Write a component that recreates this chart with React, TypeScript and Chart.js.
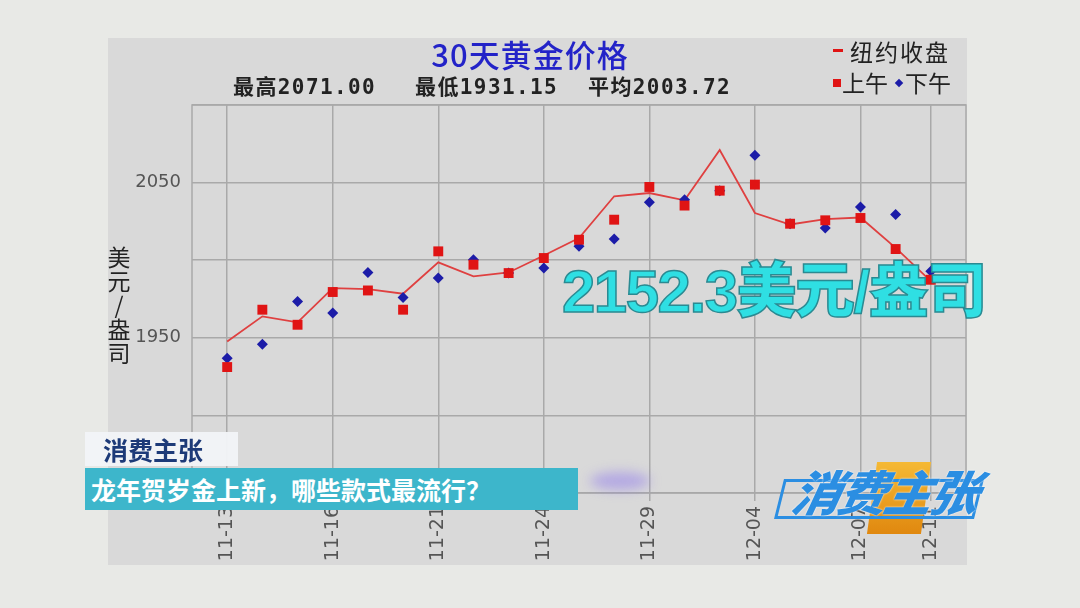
import React, { useEffect, useRef } from "react";
import { Chart, registerables } from "chart.js";

Chart.register(...registerables);

// ---- data ----
const dates = [
  "11-13", "11-14", "11-15", "11-16", "11-17", "11-20", "11-21", "11-22", "11-23", "11-24",
  "11-27", "11-28", "11-29", "11-30", "12-01", "12-04", "12-05", "12-06", "12-07", "12-08", "12-11",
];
const tickIndexes = [0, 3, 6, 9, 12, 15, 18, 20];
const nyClose = [
  1947.6, 1963.8, 1960.0, 1982.0, 1981.4, 1978.4, 1998.6, 1989.6, 1992.1, 2003.0,
  2014.3, 2041.2, 2043.3, 2038.6, 2071.0, 2030.4, 2023.0, 2026.5, 2027.5, 2007.9, 1986.5,
];
const amPrices = [
  1931.15, 1968.1, 1958.4, 1979.5, 1980.5, 1968.1, 2005.7, 1997.1, 1991.7, 2001.4,
  2013.2, 2026.1, 2047.2, 2035.2, 2044.8, 2048.7, 2023.5, 2025.7, 2027.2, 2007.2, 1987.4,
];
const pmPrices = [
  1936.9, 1945.9, 1973.4, 1965.9, 1992.1, 1976.0, 1988.5, 2000.3, 1991.7, 1995.0,
  2009.0, 2013.7, 2037.3, 2039.0, 2044.8, 2067.6, 2023.5, 2020.8, 2034.3, 2029.4, 1992.8,
];
const yGridValues = [1850, 1900, 1950, 2000, 2050, 2100];
const yLabelValues = [1950, 2050];

const titleText = "30天黄金价格";
const statHigh = "最高2071.00";
const statLow = "最低1931.15";
const statAvg = "平均2003.72";
const yTitleChars = ["美", "元", "/", "盎", "司"];

const GRID = "#a9a9a9";

const borderPlugin = {
  id: "plotBorder",
  beforeDatasetsDraw(chart: any) {
    const { ctx, chartArea } = chart;
    ctx.save();
    ctx.strokeStyle = GRID;
    ctx.lineWidth = 1.5;
    ctx.strokeRect(chartArea.left, chartArea.top, chartArea.right - chartArea.left, chartArea.bottom - chartArea.top);
    ctx.restore();
  },
};

function GoldChart() {
  const ref = useRef<HTMLCanvasElement | null>(null);
  useEffect(() => {
    if (!ref.current) return;
    const chart = new Chart(ref.current, {
      type: "line",
      data: {
        datasets: [
          {
            label: "上午",
            data: amPrices.map((v, i) => ({ x: i, y: v })),
            showLine: false,
            pointStyle: "rect",
            pointRadius: 7,
            pointBackgroundColor: "#e01414",
            pointBorderWidth: 0,
            backgroundColor: "#e01414",
            borderColor: "#e01414",
            order: 0,
          },
          {
            label: "下午",
            data: pmPrices.map((v, i) => ({ x: i, y: v })),
            showLine: false,
            pointStyle: "rectRot",
            pointRadius: 5.5,
            pointBackgroundColor: "#1c1ca8",
            pointBorderWidth: 0,
            backgroundColor: "#1c1ca8",
            borderColor: "#1c1ca8",
            order: 1,
          },
          {
            label: "纽约收盘",
            data: nyClose.map((v, i) => ({ x: i, y: v })),
            borderColor: "#df4040",
            borderWidth: 1.8,
            pointRadius: 0,
            tension: 0,
            order: 2,
          },
        ],
      },
      options: {
        animation: false,
        responsive: false,
        maintainAspectRatio: false,
        layout: { autoPadding: false, padding: { top: 67, right: 1, left: 0, bottom: 0 } },
        plugins: { legend: { display: false }, tooltip: { enabled: false }, title: { display: false } },
        scales: {
          x: {
            type: "linear",
            min: -1,
            max: 21,
            afterBuildTicks: (s: any) => {
              s.ticks = tickIndexes.map((v) => ({ value: v }));
            },
            afterFit: (s: any) => {
              s.height = 72;
              s.paddingLeft = 0;
              s.paddingRight = 0;
            },
            ticks: {
              autoSkip: false,
              minRotation: 90,
              maxRotation: 90,
              padding: 5,
              color: "#555",
              font: { family: "DejaVu Sans", size: 19 },
              callback: (v: any) => dates[v] ?? "",
            },
            grid: { color: GRID, lineWidth: 1.5, tickLength: 8 },
            border: { display: false },
          },
          y: {
            min: 1850,
            max: 2100,
            afterBuildTicks: (s: any) => {
              s.ticks = yGridValues.map((v) => ({ value: v }));
            },
            afterFit: (s: any) => {
              s.width = 84;
              s.paddingTop = 0;
              s.paddingBottom = 0;
            },
            ticks: {
              padding: 11,
              color: "#555",
              font: { family: "DejaVu Sans", size: 18 },
              callback: (v: any) => (yLabelValues.includes(v) ? String(v) : ""),
            },
            grid: { color: GRID, lineWidth: 1.5, drawTicks: false },
            border: { display: false },
          },
        },
      },
      plugins: [borderPlugin],
    });
    return () => chart.destroy();
  }, []);
  return <canvas ref={ref} width={859} height={527} style={{ display: "block" }} />;
}

const abs = (l: number, t: number, extra: React.CSSProperties = {}): React.CSSProperties => ({
  position: "absolute",
  left: l,
  top: t,
  whiteSpace: "nowrap",
  lineHeight: 1,
  ...extra,
});

const CJK = "'Noto Sans CJK SC', sans-serif";
const STAT = "'DejaVu Sans Mono', 'Noto Sans CJK SC', monospace";

export default function App() {
  const statStyle: React.CSSProperties = { fontSize: 21, fontWeight: 700, color: "#222", fontFamily: STAT, letterSpacing: 1.4 };
  return (
    <div
      style={{
        position: "fixed",
        left: 0,
        top: 0,
        width: 1080,
        height: 608,
        background: "#e8e9e6",
        overflow: "hidden",
        fontFamily: CJK,
      }}
    >
      <div style={{ position: "absolute", left: 108, top: 38, width: 859, height: 527, background: "#d9d9d9" }}>
        <GoldChart />
      </div>

      {/* title */}
      <div style={abs(380, 38, { width: 300, textAlign: "center", fontSize: 31, fontWeight: 500, color: "#2323c8", fontFamily: CJK, letterSpacing: 1 })}>
        {titleText}
      </div>
      {/* stats */}
      <div style={abs(233, 77, statStyle)}>{statHigh}</div>
      <div style={abs(415, 77, statStyle)}>{statLow}</div>
      <div style={abs(588, 77, statStyle)}>{statAvg}</div>

      {/* legend */}
      <div style={abs(833, 49, { width: 10, height: 3, background: "#e01414" })} />
      <div style={abs(850, 40, { fontSize: 23, color: "#222", letterSpacing: 2 })}>纽约收盘</div>
      <div style={abs(833, 79, { width: 8, height: 8, background: "#e01414" })} />
      <div style={abs(842, 71, { fontSize: 23, color: "#222" })}>上午</div>
      <div style={abs(896, 80, { width: 6, height: 6, background: "#1c1ca8", transform: "rotate(45deg)" })} />
      <div style={abs(905, 71, { fontSize: 23, color: "#222" })}>下午</div>

      {/* y axis title */}
      <div style={abs(106, 244, { display: "flex", flexDirection: "column", alignItems: "center", width: 26, fontSize: 23, color: "#222" })}>
        {yTitleChars.map((c, i) => (
          <span key={i} style={{ lineHeight: "24px" }}>{c}</span>
        ))}
      </div>

      {/* TV overlays */}
      <div style={abs(590, 472, { width: 60, height: 18, borderRadius: "50%", background: "rgba(150,130,235,0.55)", filter: "blur(6px)" })} />
      <div
        style={abs(85, 432, {
          width: 153,
          height: 34,
          background: "rgba(242,244,248,0.95)",
          fontSize: 25,
          fontWeight: 700,
          color: "#1d3a78",
          display: "flex",
          alignItems: "center",
          paddingLeft: 18,
          boxSizing: "border-box",
        })}
      >
        消费主张
      </div>
      <div
        style={abs(85, 468, {
          width: 493,
          height: 42,
          background: "#3db6cb",
          fontSize: 25,
          fontWeight: 700,
          color: "#ffffff",
          display: "flex",
          alignItems: "center",
          paddingLeft: 6,
          boxSizing: "border-box",
        })}
      >
        龙年贺岁金上新，哪些款式最流行？
      </div>

      <div
        style={abs(562, 262, {
          fontSize: 60,
          fontWeight: 900,
          fontFamily: "'Liberation Sans', 'Noto Sans CJK SC', sans-serif",
          color: "#2fdfe3",
          WebkitTextStroke: "1.5px #2a8a92",
          letterSpacing: -1.5,
        })}
      >
        2152.3美元/盎司
      </div>

      {/* logo */}
      <div
        style={abs(872, 462, {
          width: 54,
          height: 72,
          background: "linear-gradient(180deg,#f5b935,#e0880f)",
          transform: "skewX(-8deg)",
        })}
      />
      <div
        style={abs(779, 479, {
          width: 200,
          height: 40,
          border: "3px solid #2b8ee2",
          transform: "skewX(-14deg)",
          boxSizing: "border-box",
        })}
      />
      <div
        style={abs(794, 466, {
          fontSize: 48,
          fontWeight: 900,
          fontStyle: "italic",
          color: "#2b8ee2",
          letterSpacing: -2,
          transform: "skewX(-12deg)",
          textShadow: "0 0 2px #ffffff",
        })}
      >
        消费主张
      </div>
    </div>
  );
}
